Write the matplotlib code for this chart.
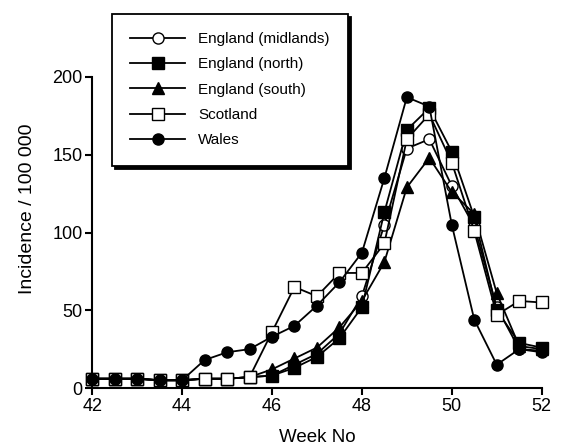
import matplotlib
matplotlib.use("Agg")
import matplotlib.pyplot as plt

# Week number (half-week steps) and incidence per 100 000
weeks = [42, 42.5, 43, 43.5, 44, 44.5, 45, 45.5, 46, 46.5, 47, 47.5,
         48, 48.5, 49, 49.5, 50, 50.5, 51, 51.5, 52]

midlands = [6, 6, 6, 5, 5, 6, 6, 7, 8, 15, 22, 35, 59, 105, 154, 160, 130, 104, 52, 25, 24]
north = [6, 6, 6, 5, 5, 6, 6, 7, 8, 13, 20, 32, 52, 113, 166, 180, 152, 110, 50, 29, 26]
south = [6, 6, 6, 5, 5, 6, 6, 7, 12, 19, 26, 39, 56, 81, 129, 148, 126, 112, 61, 27, 25]
scotland = [6, 6, 6, 5, 5, 6, 6, 7, 36, 65, 59, 74, 74, 93, 160, 176, 145, 101, 47, 56, 55]
wales = [6, 6, 6, 5, 5, 18, 23, 25, 33, 40, 53, 68, 87, 135, 187, 181, 105, 44, 15, 25, 23]

series = [
    ("England (midlands)", midlands, "o", "white"),
    ("England (north)", north, "s", "black"),
    ("England (south)", south, "^", "black"),
    ("Scotland", scotland, "s", "white"),
    ("Wales", wales, "o", "black"),
]

plt.rcParams['font.family'] = ['Liberation Sans', 'DejaVu Sans']

fig = plt.figure(figsize=(5.69, 4.45), dpi=100)
ax = fig.add_axes([0.162, 0.128, 0.79, 0.699])

for label, values, marker, face in series:
    ax.plot(weeks, values, color="black", lw=1.3, marker=marker,
            markersize=8, markerfacecolor=face, markeredgecolor="black",
            markeredgewidth=1.0, label=label, clip_on=False)

ax.set_xlim(42, 52)
ax.set_ylim(0, 200)
ax.set_xticks([42, 44, 46, 48, 50, 52])
ax.set_yticks([0, 50, 100, 150, 200])

for side in ["top", "right"]:
    ax.spines[side].set_visible(False)
for side in ["left", "bottom"]:
    ax.spines[side].set_linewidth(1.5)

ax.tick_params(direction="out", length=5, width=1.5, labelsize=13, pad=2)
ax.set_xlabel("Week No", fontsize=13.5, labelpad=10)
ax.set_ylabel("Incidence / 100 000", fontsize=14)
ax.yaxis.set_label_coords(-0.125, 0.575)

# Legend box with a solid drop shadow, placed right of the y axis
leg = ax.legend(loc="upper left", bbox_to_anchor=(0.044, 1.203),
                frameon=True, fancybox=False, fontsize=11,
                handlelength=3.6, handletextpad=0.85, labelspacing=0.74,
                borderpad=1.2, borderaxespad=0,
                shadow={"color": "black", "alpha": 1.0})
leg.get_frame().set_edgecolor("black")
leg.get_frame().set_linewidth(1.3)

plt.savefig("out.png", dpi=100)
